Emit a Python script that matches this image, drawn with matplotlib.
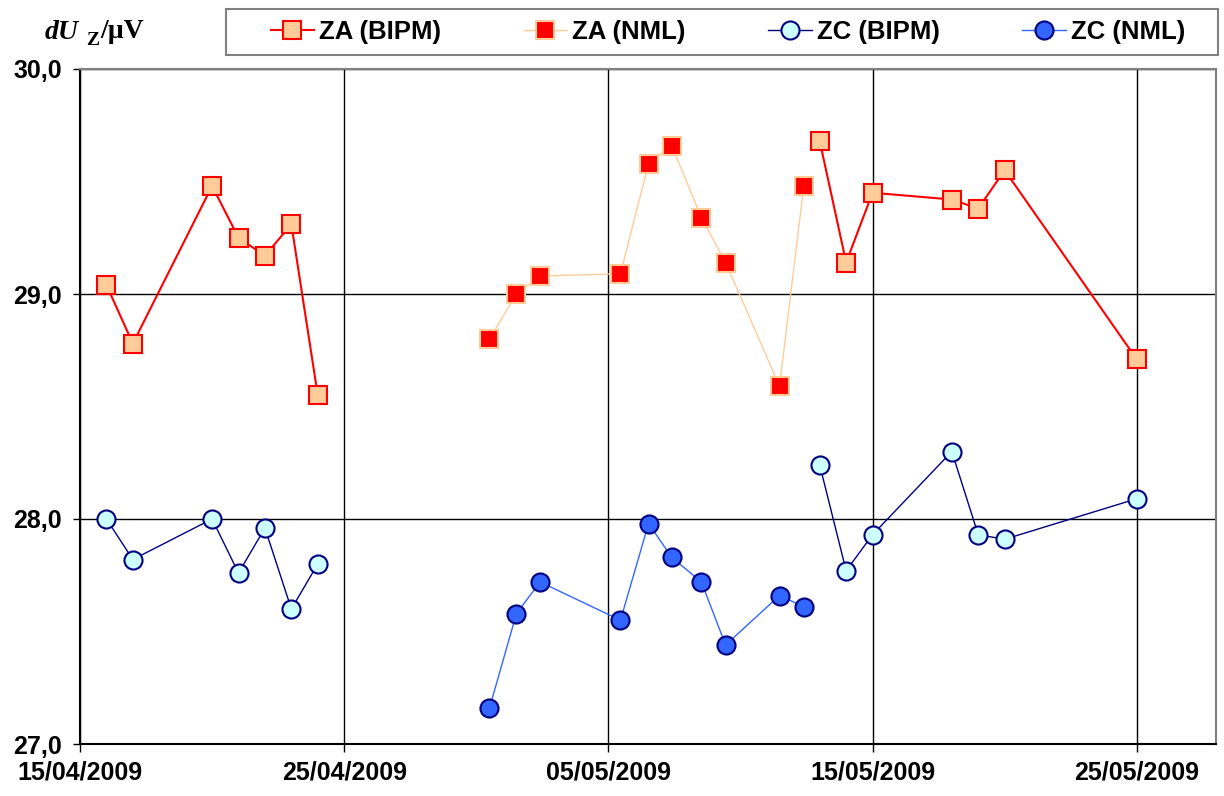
import matplotlib.pyplot as plt
import matplotlib.dates as mdates
import numpy as np
import pandas as pd
from matplotlib.patches import Rectangle
from matplotlib.ticker import FixedLocator, FuncFormatter

plt.rcParams["font.family"] = ["Liberation Sans", "DejaVu Sans"]

# BIPM measurement days (ZA and ZC measured on the same days)
bipm_dates = ["2009-04-16", "2009-04-17", "2009-04-20", "2009-04-21", "2009-04-22",
              "2009-04-23", "2009-04-24", "2009-05-13", "2009-05-14", "2009-05-15",
              "2009-05-18", "2009-05-19", "2009-05-20", "2009-05-25"]
za_bipm = [29.04, 28.78, 29.48, 29.25, 29.17, 29.31, 28.55,
           29.68, 29.14, 29.45, 29.42, 29.38, 29.55, 28.71]
zc_bipm = [28.00, 27.82, 28.00, 27.76, 27.96, 27.60, 27.80,
           28.24, 27.77, 27.93, 28.30, 27.93, 27.91, 28.09]

# NML measurements (taken during the day)
nml_dates = ["2009-04-30 12:00", "2009-05-01 12:30", "2009-05-02 10:00", "2009-05-05 11:00",
             "2009-05-06 12:30", "2009-05-07 09:30", "2009-05-08 12:30", "2009-05-09 10:30",
             "2009-05-11 11:30", "2009-05-12 09:30"]
za_nml = [28.80, 29.00, 29.08, 29.09, 29.58, 29.66, 29.34, 29.14, 28.59, 29.48]
zc_nml = [27.16, 27.58, 27.72, 27.55, 27.98, 27.83, 27.72, 27.44, 27.66, 27.61]

tick_dates = ["2009-04-15", "2009-04-25", "2009-05-05", "2009-05-15", "2009-05-25"]
x_range = ["2009-04-15", "2009-05-28"]
y_ticks = [27.0, 28.0, 29.0, 30.0]

W, H = 1224, 796


def break_gaps(dates, values, max_gap_days=10):
    # a blank between the two BIPM campaigns, so the line is not joined
    s = pd.Series(values, index=pd.to_datetime(dates), dtype=float)
    idx = s.index
    mids = [idx[i] + (idx[i + 1] - idx[i]) / 2 for i in range(len(idx) - 1)
            if idx[i + 1] - idx[i] > pd.Timedelta(days=max_gap_days)]
    return pd.concat([s, pd.Series(np.nan, index=pd.DatetimeIndex(mids))]).sort_index()


fig = plt.figure(figsize=(W / 100, H / 100), dpi=100)
ax = fig.add_axes([80 / W, 1 - 744 / H, (1216 - 80) / W, (744 - 69) / H])

za_b = break_gaps(bipm_dates, za_bipm)
zc_b = break_gaps(bipm_dates, zc_bipm)
nml_x = pd.to_datetime(nml_dates)

ms, mew = 13, 1.5
h1, = ax.plot(za_b.index, za_b.values, color="#FF0000", lw=1.5, marker="s", ms=ms,
              mfc="#FFCC99", mec="#FF0000", mew=mew, label="ZA (BIPM)", zorder=3)
h2, = ax.plot(nml_x, za_nml, color="#FFCC99", lw=1.0, marker="s", ms=ms,
              mfc="#FF0000", mec="#FFCC99", mew=mew, label="ZA (NML)", zorder=3)
h3, = ax.plot(zc_b.index, zc_b.values, color="#000080", lw=1.0, marker="o", ms=ms,
              mfc="#CCFFFF", mec="#000080", mew=mew, label="ZC (BIPM)", zorder=3)
h4, = ax.plot(nml_x, zc_nml, color="#3366FF", lw=1.0, marker="o", ms=ms,
              mfc="#3366FF", mec="#000080", mew=mew, label="ZC (NML)", zorder=3)

ax.set_xlim(pd.to_datetime(x_range))
ax.set_ylim(y_ticks[0], y_ticks[-1])
ax.xaxis.set_major_locator(FixedLocator(mdates.date2num(pd.to_datetime(tick_dates))))
ax.xaxis.set_major_formatter(mdates.DateFormatter("%d/%m/%Y"))
ax.yaxis.set_major_locator(FixedLocator(y_ticks))
ax.yaxis.set_major_formatter(FuncFormatter(lambda v, p: f"{v:.1f}".replace(".", ",")))

ax.grid(True, color="black", lw=1.0, zorder=0)
ax.set_axisbelow(True)
for side in ["left", "bottom"]:
    ax.spines[side].set_color("black")
    ax.spines[side].set_linewidth(1.5)
for side in ["top", "right"]:
    ax.spines[side].set_color("#808080")
    ax.spines[side].set_linewidth(1.5)

ax.tick_params(axis="x", length=6, width=1, pad=6, labelsize=18)
ax.tick_params(axis="y", length=5, width=1, pad=8, labelsize=18)
for lab in ax.get_xticklabels() + ax.get_yticklabels():
    lab.set_fontweight("bold")

# axis title in the top left corner
serif = "Liberation Serif"
fig.text(45 / W, 1 - 39 / H, "dU", family=serif, style="italic", weight="bold",
         fontsize=20, va="baseline")
fig.text(86 / W, 1 - 45 / H, "Z", family=serif, weight="bold", fontsize=14, va="baseline")
fig.text(100 / W, 1 - 38 / H, "/µV", family=serif, weight="bold", fontsize=20, va="baseline")

# legend box across the top
fig.patches.append(Rectangle((226 / W, 1 - 55 / H), (1218 - 226) / W, 46 / H,
                             transform=fig.transFigure, fill=False, edgecolor="#808080",
                             lw=1.5))
fig.legend(handles=[h1, h2, h3, h4], loc="center left",
           bbox_to_anchor=(250 / W, 1 - 32 / H), ncol=4, frameon=False,
           prop={"size": 18.5, "weight": "bold"}, handlelength=1.7, handletextpad=0.2,
           columnspacing=3.2, borderpad=0.3)

fig.savefig("out.png", dpi=100)
